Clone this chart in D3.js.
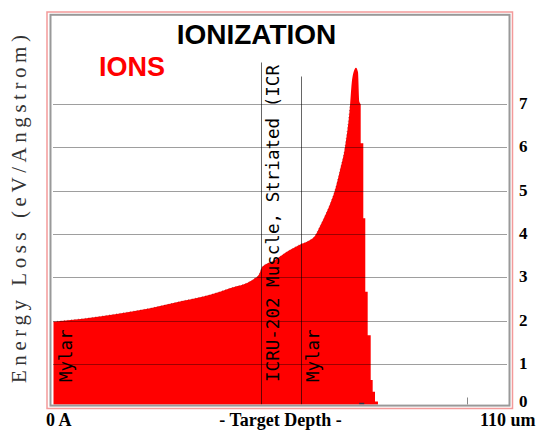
<!DOCTYPE html>
<html>
<head>
<meta charset="utf-8">
<script src="https://cdn.jsdelivr.net/npm/d3@7/dist/d3.min.js"></script>
<style>
  body { margin: 0; background: #fff; }
  svg { display: block; }
</style>
</head>
<body>
<div id="chart"></div>
<script>
// energy loss along the rising part (depth in um, loss in eV/Angstrom)
const riseDepth = [0, 7.1, 15.3, 23.4, 31.4, 37.9, 42.7, 47.6, 48.4, 49.8, 50.5, 53.2, 57.2, 59.7,
  61.7, 63.3, 64.5, 66.1, 66.9, 68.1, 69.3, 70.55, 71.76, 72.17, 72.55, 73.21, 73.69, 74.0, 74.35]
const riseLoss = [1.98, 2.05, 2.16, 2.29, 2.46, 2.60, 2.75, 2.91, 2.96, 3.08, 3.24, 3.38, 3.63, 3.76,
  3.84, 3.96, 4.18, 4.50, 4.68, 5.00, 5.45, 6.00, 6.95, 7.47, 7.70, 7.83, 7.73, 7.05, 6.99]
// falling edge, drawn as bins: bin i covers tailDepth[i]..tailDepth[i+1]
const tailDepth = [74.35, 74.98, 75.46, 76.04, 76.77, 77.25, 77.81, 78.53]
const tailLoss = [6.09, 4.36, 2.67, 1.67, 0.64, 0.37, 0.14]

const layerNames = ['Mylar', 'ICRU-202 Muscle, Striated (ICR', 'Mylar']
const layerStart = [0, 50.15, 60.0]
const yTicks = [0, 1, 2, 3, 4, 5, 6, 7]
const rangeDepth = 74.6

const width = 536, height = 430
const plot = { left: 52, right: 508, top: 16, bottom: 404.5 }

const x = d3.scaleLinear().domain([0, 110]).range([53.5, 508])
const y = d3.scaleLinear().domain([0, 7]).range([407.7, 103.7])

const svg = d3.select('#chart').append('svg')
  .attr('width', width)
  .attr('height', height)
  .attr('viewBox', `0 0 ${width} ${height}`)

svg.append('defs').append('clipPath').attr('id', 'plotClip')
  .append('rect')
  .attr('x', plot.left).attr('y', plot.top)
  .attr('width', plot.right - plot.left).attr('height', plot.bottom - plot.top)

// smooth top edge for the rise, then step bins for the fall
const risePoints = riseDepth.map((d, i) => [d, riseLoss[i]])
const topLine = d3.line()
  .x(d => x(d[0]))
  .y(d => y(d[1]))
  .curve(d3.curveMonotoneX)
let outline = topLine(risePoints)
tailLoss.forEach((v, i) => {
  outline += `L${x(tailDepth[i])},${y(v)}L${x(tailDepth[i + 1])},${y(v)}`
})
outline += `L${x(tailDepth[tailDepth.length - 1])},${y(0)}L${x(0)},${y(0)}Z`

const g = svg.append('g').attr('clip-path', 'url(#plotClip)')

g.append('path')
  .attr('d', outline)
  .attr('fill', '#ff0000')

// jagged dark dotting along the top edge
g.append('path')
  .datum(risePoints.filter(p => p[0] < 72))
  .attr('d', topLine)
  .attr('fill', 'none')
  .attr('stroke', '#400')
  .attr('stroke-width', 1)
  .attr('stroke-dasharray', '1,2.5')
  .attr('opacity', 0.4)

// grid
g.selectAll('line.grid')
  .data(yTicks.filter(t => t > 0))
  .join('line')
  .attr('class', 'grid')
  .attr('x1', plot.left + 1).attr('x2', plot.right - 1)
  .attr('y1', d => Math.round(y(d)) + 0.5).attr('y2', d => Math.round(y(d)) + 0.5)
  .attr('stroke', '#000')
  .attr('stroke-opacity', 0.38)

// layer boundaries
const lineTop = [null, 62.5, 76.5]
g.selectAll('line.layer')
  .data(layerStart.slice(1).map((d, i) => ({ d, top: lineTop[i + 1] })))
  .join('line')
  .attr('class', 'layer')
  .attr('x1', c => Math.round(x(c.d)) + 0.5).attr('x2', c => Math.round(x(c.d)) + 0.5)
  .attr('y1', c => c.top).attr('y2', plot.bottom)
  .attr('stroke', '#000')
  .attr('stroke-opacity', 0.6)

// layer names
const labelLen = [null, 317, null]
layerNames.forEach((name, i) => {
  const bx = x(layerStart[i]) + 5 + 13
  const t = svg.append('text')
    .attr('transform', `translate(${bx},382) rotate(-90)`)
    .attr('font-family', '"DejaVu Sans Mono", monospace')
    .attr('font-size', 17.5)
    .attr('fill', '#000')
    .text(name)
  if (labelLen[i]) t.attr('textLength', labelLen[i]).attr('lengthAdjust', 'spacingAndGlyphs')
})

// 100 um tick and range marker
svg.append('line')
  .attr('x1', Math.round(x(100)) + 0.5).attr('x2', Math.round(x(100)) + 0.5)
  .attr('y1', 397.5).attr('y2', plot.bottom)
  .attr('stroke', '#888')
svg.append('line')
  .attr('x1', x(rangeDepth) - 2.5).attr('x2', x(rangeDepth) + 2.5)
  .attr('y1', 403.5).attr('y2', 403.5)
  .attr('stroke', '#334')
  .attr('stroke-width', 1.5)

// frames
svg.append('rect')
  .attr('x', 50.5).attr('y', 14.8)
  .attr('width', 459).attr('height', 390.8)
  .attr('fill', 'none')
  .attr('stroke', '#999')
  .attr('stroke-width', 2)
svg.append('rect')
  .attr('x', 47).attr('y', 12)
  .attr('width', 465.5).attr('height', 396.5)
  .attr('fill', 'none')
  .attr('stroke', '#f39a9a')
  .attr('stroke-width', 1.5)

// right tick labels
svg.selectAll('text.ytick')
  .data(yTicks)
  .join('text')
  .attr('class', 'ytick')
  .attr('x', 519)
  .attr('y', d => Math.min(y(d) - 1, 401))
  .attr('dy', '0.35em')
  .attr('font-family', '"Liberation Serif", "Times New Roman", serif')
  .attr('font-weight', 'bold')
  .attr('font-size', 17)
  .attr('fill', '#000')
  .text(d => d)

// bottom labels
const bottomFont = '"Liberation Serif", "Times New Roman", serif'
svg.append('text').attr('x', 46).attr('y', 425.5)
  .attr('font-family', bottomFont).attr('font-weight', 'bold').attr('font-size', 18)
  .text('0 A')
svg.append('text').attr('x', 280.5).attr('y', 425.5)
  .attr('text-anchor', 'middle')
  .attr('font-family', bottomFont).attr('font-weight', 'bold').attr('font-size', 18)
  .text('- Target Depth -')
svg.append('text').attr('x', 480).attr('y', 425.5)
  .attr('font-family', bottomFont).attr('font-weight', 'bold').attr('font-size', 18)
  .text('110 um')

// y axis title
svg.append('text')
  .attr('transform', 'translate(26,209) rotate(-90)')
  .attr('text-anchor', 'middle')
  .attr('font-family', '"Liberation Serif", "DejaVu Serif", serif')
  .attr('font-size', 21)
  .attr('fill', '#333')
  .attr('textLength', 348)
  .attr('lengthAdjust', 'spacing')
  .text('Energy Loss (eV/Angstrom)')

// titles
svg.append('text')
  .attr('x', 256.5).attr('y', 43.8)
  .attr('text-anchor', 'middle')
  .attr('font-family', '"Liberation Sans", Arial, sans-serif')
  .attr('font-weight', 'bold')
  .attr('font-size', 28)
  .attr('fill', '#000')
  .text('IONIZATION')
svg.append('text')
  .attr('x', 99).attr('y', 76)
  .attr('font-family', '"Liberation Sans", Arial, sans-serif')
  .attr('font-weight', 'bold')
  .attr('font-size', 27)
  .attr('fill', '#ff0000')
  .text('IONS')
</script>
</body>
</html>
